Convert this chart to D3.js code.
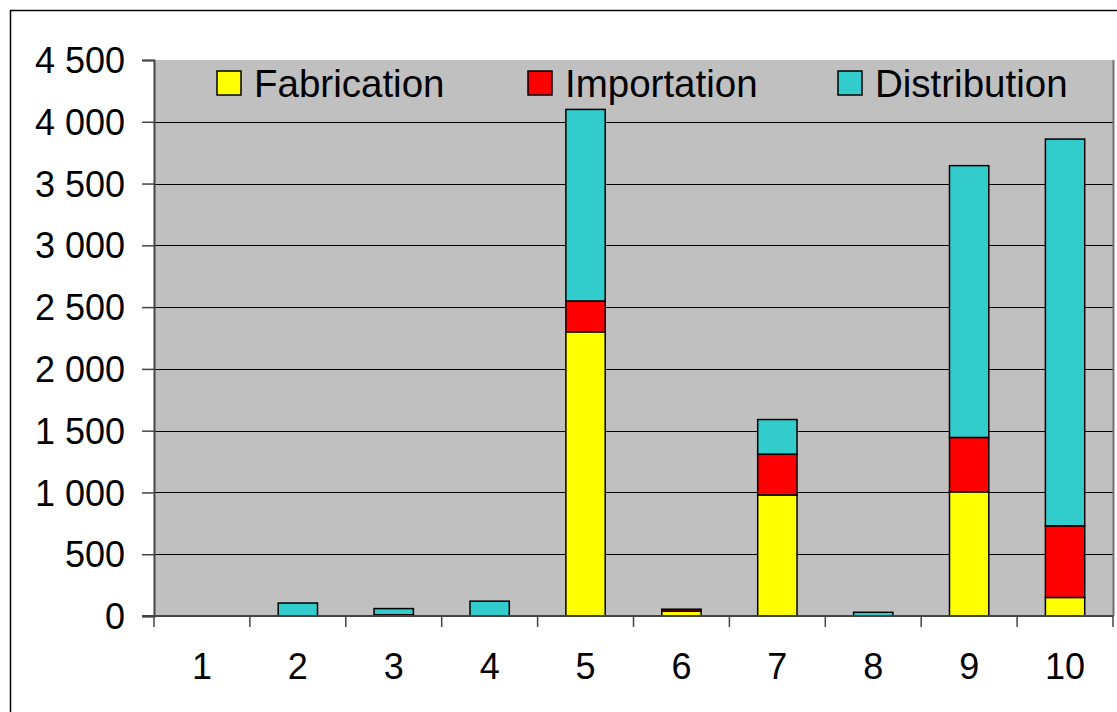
<!DOCTYPE html>
<html><head><meta charset="utf-8">
<script src="https://cdn.jsdelivr.net/npm/d3@7"></script>
<style>body{margin:0;background:#fff}svg{display:block}text{font-family:"Liberation Sans",Arial,sans-serif}</style>
</head><body>
<svg id="c" width="1117" height="712"></svg>
<script>
const categories = ["1","2","3","4","5","6","7","8","9","10"];
const fabrication = [0, 0, 10, 0, 2300, 40, 980, 0, 1005, 150];
const importation = [0, 0, 0, 0, 250, 15, 330, 0, 440, 580];
const distribution = [0, 105, 50, 120, 1550, 0, 280, 30, 2200, 3130];
const seriesNames = ["Fabrication", "Importation", "Distribution"];
const colors = ["#ffff00", "#ff0000", "#33cccc"];
const yTicks = [0, 500, 1000, 1500, 2000, 2500, 3000, 3500, 4000, 4500];

const svg = d3.select("#c");
const L = 154, R = 1113, T = 60, B = 616;

// outer frame
svg.append("rect").attr("x", 10.5).attr("y", 10.5).attr("width", 1200).attr("height", 800)
  .attr("fill", "#fff").attr("stroke", "#000").attr("stroke-width", 1.5);

const x = d3.scaleBand().domain(categories).range([L, R]).padding(0);
const y = d3.scaleLinear().domain([0, 4500]).range([B, T]);

svg.append("rect").attr("x", L).attr("y", T).attr("width", R - L).attr("height", B - T).attr("fill", "#c0c0c0");

// gridlines
svg.append("g").selectAll("line").data(yTicks.filter(v => v > 0 && v < 4500)).join("line")
  .attr("x1", L).attr("x2", R).attr("y1", d => Math.round(y(d)) + 0.5).attr("y2", d => Math.round(y(d)) + 0.5)
  .attr("stroke", "#000").attr("stroke-width", 1);

// right border
svg.append("line").attr("x1", R + 0.5).attr("x2", R + 0.5).attr("y1", T).attr("y2", B)
  .attr("stroke", "#707070").attr("stroke-width", 2);

const data = categories.map((c, i) => ({cat: c, Fabrication: fabrication[i], Importation: importation[i], Distribution: distribution[i]}));
const stacked = d3.stack().keys(seriesNames)(data);
const bw = x.bandwidth() * 0.41;

svg.append("g").selectAll("g").data(stacked).join("g")
  .attr("fill", (d, i) => colors[i])
  .selectAll("rect").data(d => d.filter(s => s[1] - s[0] > 0)).join("rect")
  .attr("x", d => x(d.data.cat) + (x.bandwidth() - bw) / 2)
  .attr("width", bw)
  .attr("y", d => y(d[1]))
  .attr("height", d => y(d[0]) - y(d[1]))
  .attr("stroke", "#000").attr("stroke-width", 1.5);

// y axis
const fmt = d3.formatLocale({decimal: ",", thousands: " ", grouping: [3], currency: ["", ""]}).format(",");
const yAxis = svg.append("g").attr("transform", `translate(${L},0)`)
  .call(d3.axisLeft(y).tickValues(yTicks).tickFormat(fmt).tickSize(12).tickPadding(17));
yAxis.select(".domain").attr("stroke", "#444").attr("stroke-width", 2);
yAxis.selectAll(".tick line").attr("stroke", "#444").attr("stroke-width", 1.5);
yAxis.selectAll(".tick text").attr("font-size", 36).attr("fill", "#000")
  .attr("font-family", "'Liberation Sans', Arial, sans-serif").attr("dy", "0.35em");

// x axis
svg.append("line").attr("x1", L - 12).attr("x2", R).attr("y1", B).attr("y2", B)
  .attr("stroke", "#444").attr("stroke-width", 2);
const edges = categories.map(c => x(c)).concat([x(categories[categories.length - 1]) + x.bandwidth()]);
svg.append("g").selectAll("line").data(edges).join("line")
  .attr("x1", d => d).attr("x2", d => d).attr("y1", B).attr("y2", B + 11)
  .attr("stroke", "#444").attr("stroke-width", 1.5);
svg.append("g").selectAll("text").data(categories).join("text")
  .attr("x", d => x(d) + x.bandwidth() / 2).attr("y", 679)
  .attr("text-anchor", "middle").attr("font-size", 36).attr("fill", "#000").text(d => d);

// legend
const legX = [217, 528, 838];
const leg = svg.append("g").selectAll("g").data(seriesNames).join("g")
  .attr("transform", (d, i) => `translate(${legX[i]},71)`);
leg.append("rect").attr("width", 24).attr("height", 24).attr("fill", (d, i) => colors[i])
  .attr("stroke", "#000").attr("stroke-width", 1.5);
leg.append("text").attr("x", 37).attr("y", 26).attr("font-size", 38.5).attr("fill", "#000").text(d => d);
</script>
</body></html>
